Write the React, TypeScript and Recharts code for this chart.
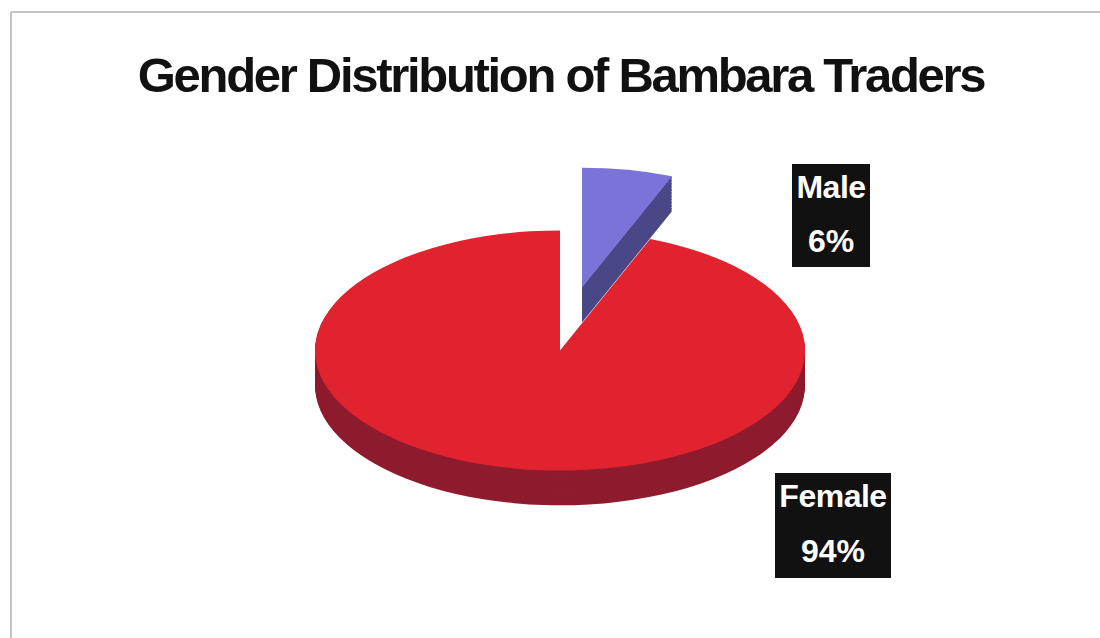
import { PieChart, Pie, Cell } from 'recharts';

const categories = ['Male', 'Female'];
const values = [6, 94];
const percentLabels = ['6%', '94%'];

const data = categories.map((name, i) => ({ name, value: values[i] }));

const TOP = { Male: '#7b74d8', Female: '#e1232f' } as Record<string, string>;
const SIDE = { Male: '#4a4786', Female: '#8e1b2e' } as Record<string, string>;

// perspective: pie drawn as a circle, then squashed vertically
const SQUASH = 0.49;
const R = 245;
const CX = 560;
const CY = 450;
const DEPTH = 71;
const STEP = 3;
const layers: number[] = [];
for (let d = DEPTH; d > 0; d -= STEP) layers.push(d);

// the male slice is pulled out toward the top
const EXPLODE = { dx: 22, dy: -128 };

function slice(key: string, show: string, cx: number, cy: number, side: boolean) {
  return (
    <Pie
      key={key}
      data={data}
      dataKey="value"
      nameKey="name"
      cx={cx}
      cy={cy}
      outerRadius={R}
      innerRadius={0}
      startAngle={90}
      endAngle={-270}
      stroke="none"
      isAnimationActive={false}
      legendType="none"
    >
      {data.map((d) => (
        <Cell
          key={d.name}
          fill={d.name === show ? (side ? SIDE[d.name] : TOP[d.name]) : 'transparent'}
          fillOpacity={d.name === show ? 1 : 0}
        />
      ))}
    </Pie>
  );
}

const FONT = "'Liberation Sans', Arial, sans-serif";

function Label({ i, x, y1, y2, box }: { i: number; x: number; y1: number; y2: number; box: [number, number, number, number] }) {
  return (
    <g>
      <rect x={box[0]} y={box[1]} width={box[2]} height={box[3]} fill="#111" />
      <text x={x} y={y1} textAnchor="middle" fill="#fff" fontSize={32} fontWeight="bold" letterSpacing={-0.5} fontFamily={FONT}>
        {categories[i]}
      </text>
      <text x={x} y={y2} textAnchor="middle" fill="#fff" fontSize={32} fontWeight="bold" fontFamily={FONT}>
        {percentLabels[i]}
      </text>
    </g>
  );
}

export default function App() {
  const mx = CX + EXPLODE.dx;
  const my = CY + EXPLODE.dy;
  return (
    <div style={{ position: 'fixed', left: 0, top: 0, width: 1100, height: 638, background: '#fff', overflow: 'hidden' }}>
      <div
        style={{
          position: 'absolute',
          left: 0,
          top: 350 - CY * SQUASH,
          width: 1100,
          height: 900,
          transform: `scaleY(${SQUASH})`,
          transformOrigin: 'top left',
        }}
      >
        <PieChart width={1100} height={900} margin={{ top: 0, right: 0, bottom: 0, left: 0 }}>
          {layers.map((d) => slice(`ms${d}`, 'Male', mx, my + d, true))}
          {slice('mt', 'Male', mx, my, false)}
          {layers.map((d) => slice(`fs${d}`, 'Female', CX, CY + d, true))}
          {slice('ft', 'Female', CX, CY, false)}
        </PieChart>
      </div>
      <svg width={1100} height={638} style={{ position: 'absolute', left: 0, top: 0 }}>
        <line x1={11} y1={12} x2={1100} y2={12} stroke="#c4c4c4" strokeWidth={2} />
        <line x1={11} y1={12} x2={11} y2={638} stroke="#c4c4c4" strokeWidth={2} />
        <text x={561} y={92} textAnchor="middle" fontSize={49} fontWeight="bold" letterSpacing={-2.3} fill="#111" fontFamily={FONT}>
          Gender Distribution of Bambara Traders
        </text>
        <Label i={0} x={831} y1={198} y2={252} box={[792, 164, 78, 103]} />
        <Label i={1} x={833} y1={507} y2={562} box={[775, 473, 116, 105]} />
      </svg>
    </div>
  );
}
